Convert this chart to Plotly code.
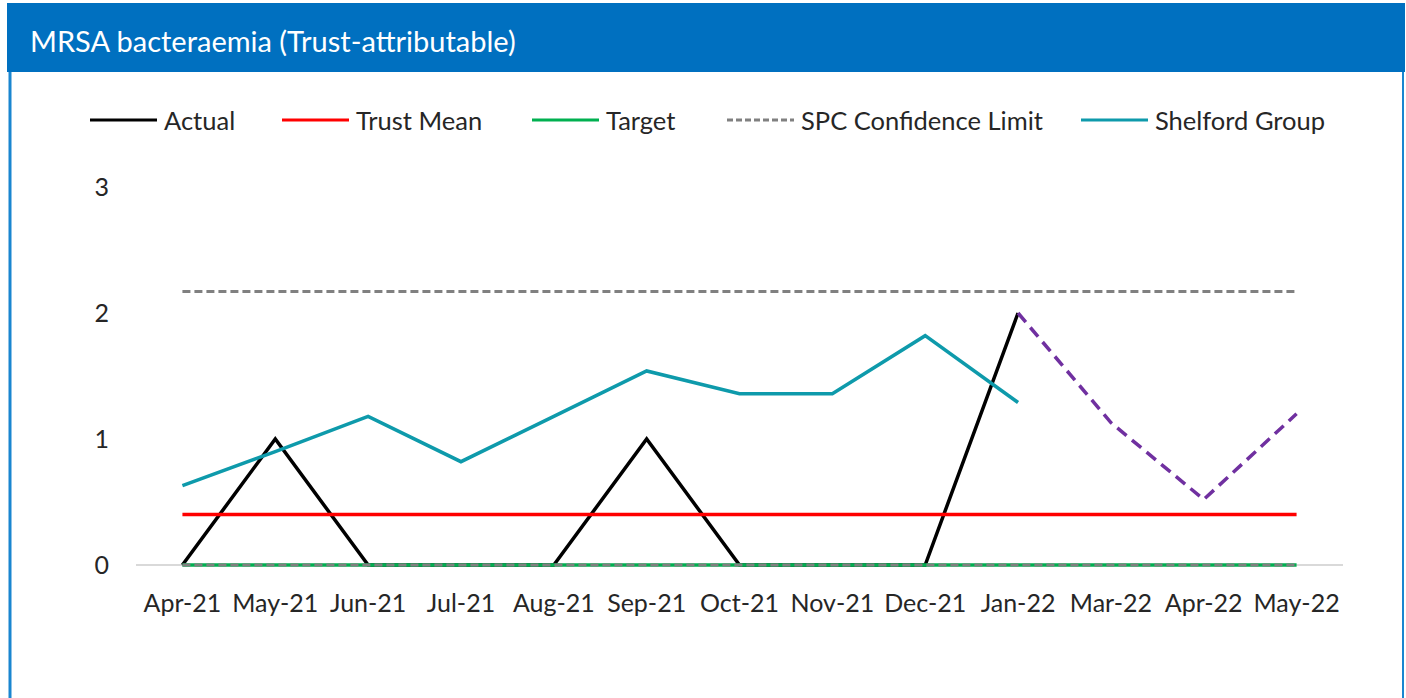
import plotly.graph_objects as go

months = ["Apr-21", "May-21", "Jun-21", "Jul-21", "Aug-21", "Sep-21", "Oct-21",
          "Nov-21", "Dec-21", "Jan-22", "Mar-22", "Apr-22", "May-22"]
actual = [0, 1, 0, 0, 0, 1, 0, 0, 0, 2]
trust_mean = [0.4] * 13
target = [0] * 13
spc_upper = [2.17] * 13
spc_lower = [0] * 13
shelford = [0.63, 0.9, 1.18, 0.82, 1.18, 1.54, 1.36, 1.36, 1.82, 1.29]
forecast_months = ["Jan-22", "Mar-22", "Apr-22", "May-22"]
forecast = [2, 1.13, 0.52, 1.2]

W, H = 1406, 698
L, R, T, B = 136, 63, 187, 128
PW, PH = W - L - R, H - T - B
Y0 = 565  # pixel row of value 0

def px(x):
    return (x - L) / PW

def py(y):
    return (H - B - y) / PH

FONT = "Lato"
TXT = "#262626"
fig = go.Figure()
fig.add_trace(go.Scatter(x=months[:len(actual)], y=actual, mode="lines",
                         line=dict(color="#000000", width=3.5), name="Actual"))
fig.add_trace(go.Scatter(x=months, y=trust_mean, mode="lines",
                         line=dict(color="#FF0000", width=3.5), name="Trust Mean"))
fig.add_trace(go.Scatter(x=months, y=target, mode="lines",
                         line=dict(color="#00B050", width=3.5), name="Target"))
fig.add_trace(go.Scatter(x=months, y=spc_upper, mode="lines",
                         line=dict(color="#808080", width=3, dash="8px,4px"),
                         name="SPC Confidence Limit"))
fig.add_trace(go.Scatter(x=months, y=spc_lower, mode="lines",
                         line=dict(color="#808080", width=3, dash="8px,4px"),
                         name="SPC Lower", showlegend=False))
fig.add_trace(go.Scatter(x=months[:len(shelford)], y=shelford, mode="lines",
                         line=dict(color="#0E9AAB", width=3.5), name="Shelford Group"))
fig.add_trace(go.Scatter(x=forecast_months, y=forecast, mode="lines",
                         line=dict(color="#7030A0", width=3.5, dash="12px,7px"),
                         name="Forecast", showlegend=False))

shapes = []
annotations = []
# header bar
shapes.append(dict(type="rect", xref="paper", yref="paper",
                   x0=px(7), x1=px(1405), y0=py(72), y1=py(3),
                   fillcolor="#0070C0", line=dict(width=0), layer="below"))
# side borders
shapes.append(dict(type="line", xref="paper", yref="paper",
                   x0=px(10), x1=px(10), y0=py(72), y1=py(700),
                   line=dict(color="#1A86D0", width=3)))
shapes.append(dict(type="line", xref="paper", yref="paper",
                   x0=px(1403), x1=px(1403), y0=py(72), y1=py(700),
                   line=dict(color="#1A86D0", width=2)))
annotations.append(dict(text="MRSA bacteraemia (Trust-attributable)", xref="paper", yref="paper",
                        x=px(28), y=py(40), xanchor="left", yanchor="middle",
                        showarrow=False, font=dict(family=FONT, size=29, color="white")))

legend_items = [
    ("Actual", "#000000", "solid", 90),
    ("Trust Mean", "#FF0000", "solid", 282),
    ("Target", "#00B050", "solid", 532),
    ("SPC Confidence Limit", "#808080", "6px,3px", 727),
    ("Shelford Group", "#0E9AAB", "solid", 1081),
]
LY = 120
for name, color, dash, x0 in legend_items:
    shapes.append(dict(type="line", xref="paper", yref="paper",
                       x0=px(x0), x1=px(x0 + 67), y0=py(LY), y1=py(LY),
                       line=dict(color=color, width=3, dash=dash)))
    annotations.append(dict(text=name, xref="paper", yref="paper",
                            x=px(x0 + 72), y=py(LY), xanchor="left", yanchor="middle",
                            showarrow=False,
                            font=dict(family=FONT, size=25.5, color=TXT)))

ymin = -(H - B - Y0) / ((Y0 - T) / 3)

fig.update_layout(
    width=W, height=H,
    margin=dict(l=L, r=R, t=T, b=B),
    paper_bgcolor="white", plot_bgcolor="white",
    showlegend=False,
    shapes=shapes, annotations=annotations,
    font=dict(family=FONT, size=25, color=TXT),
    xaxis=dict(type="category", categoryorder="array", categoryarray=months,
               range=[-0.5, 12.5], showgrid=False, zeroline=False,
               showline=False, ticks="", ticklabelstandoff=16,
               tickfont=dict(family=FONT, size=25, color=TXT)),
    yaxis=dict(range=[ymin, 3], tickvals=[0, 1, 2, 3], showgrid=False,
               zeroline=True, zerolinecolor="#D9D9D9", zerolinewidth=2,
               showline=False, ticks="", ticklabelstandoff=26,
               tickfont=dict(family=FONT, size=25, color=TXT)),
)

fig.write_html("out.html", config={"displayModeBar": False},
               post_script="document.body.style.margin='0';document.body.style.overflow='hidden';")
